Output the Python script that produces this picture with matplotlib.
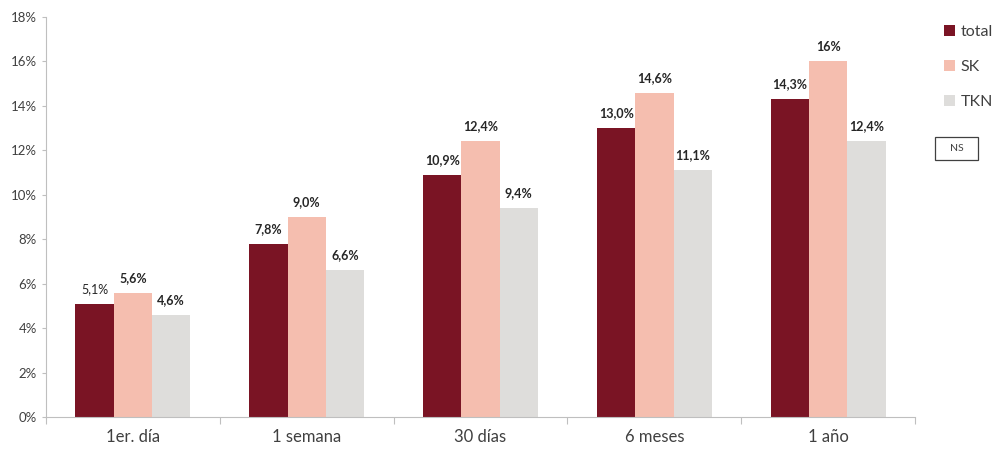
import matplotlib.pyplot as plt
import numpy as np
from matplotlib.patches import Rectangle

plt.rcParams["font.family"] = ["Lato", "DejaVu Sans"]

# Datos del gráfico
categorias = ["1er. día", "1 semana", "30 días", "6 meses", "1 año"]
total = [5.1, 7.8, 10.9, 13.0, 14.3]
sk = [5.6, 9.0, 12.4, 14.6, 16.0]
tkn = [4.6, 6.6, 9.4, 11.1, 12.4]
etiquetas_total = ["5,1%", "7,8%", "10,9%", "13,0%", "14,3%"]
etiquetas_sk = ["5,6%", "9,0%", "12,4%", "14,6%", "16%"]
etiquetas_tkn = ["4,6%", "6,6%", "9,4%", "11,1%", "12,4%"]
series = ["total", "SK", "TKN"]

colores = ["#7A1424", "#F5BEAF", "#DEDDDB"]
gris = "#404040"

fig = plt.figure(figsize=(9.98, 4.53), dpi=100)
ax = fig.add_axes([0.046, 0.0795, 0.871, 0.883])

x = np.arange(len(categorias))
ancho = 0.22
datos = [total, sk, tkn]
etiquetas = [etiquetas_total, etiquetas_sk, etiquetas_tkn]

barras = []
for i, (valores, textos) in enumerate(zip(datos, etiquetas)):
    pos = x + (i - 1) * ancho
    b = ax.bar(pos, valores, ancho, color=colores[i], label=series[i])
    barras.append(b)
    for j, (px, v, t) in enumerate(zip(pos, valores, textos)):
        peso = "normal" if (i == 0 and j == 0) else "bold"
        ax.text(px, v + 0.4, t, ha="center", va="bottom",
                fontsize=9, fontweight=peso, color="#262626")

ax.set_xlim(-0.5, len(categorias) - 0.5)
ax.set_ylim(0, 18)
ax.set_yticks(np.arange(0, 19, 2))
ax.set_yticklabels([f"{v}%" for v in range(0, 19, 2)])
ax.tick_params(axis="y", colors="#BFBFBF", labelcolor=gris, labelsize=9.5,
               length=3, direction="out")

# Marcas del eje x entre categorías
ax.set_xticks(np.arange(-0.5, len(categorias), 1))
ax.set_xticklabels([])
ax.set_xticks(x, minor=True)
ax.set_xticklabels(categorias, minor=True)
ax.tick_params(axis="x", which="major", colors="#BFBFBF", length=5)
ax.tick_params(axis="x", which="minor", length=0, labelsize=12,
               labelcolor=gris, pad=9)

for lado in ["top", "right"]:
    ax.spines[lado].set_visible(False)
ax.spines["left"].set_color("#BFBFBF")
ax.spines["bottom"].set_color("#BFBFBF")

leg = fig.legend(handles=barras, labels=series, loc="upper left",
                 bbox_to_anchor=(944 / 998, 1 - 25 / 453), frameon=False,
                 fontsize=11.5, borderpad=0, borderaxespad=0,
                 handlelength=0.7, handleheight=0.7, handletextpad=0.35,
                 labelspacing=1.3, labelcolor=gris)

# Recuadro "NS"
fig.patches.append(Rectangle((935 / 998, 1 - 160 / 453), 43 / 998, 23 / 453,
                             transform=fig.transFigure, facecolor="white",
                             edgecolor="#404040", linewidth=0.9))
fig.text(956.5 / 998, 1 - 148.5 / 453, "NS", ha="center", va="center",
         fontsize=7.5, color=gris)

fig.savefig("out.png", dpi=100)
